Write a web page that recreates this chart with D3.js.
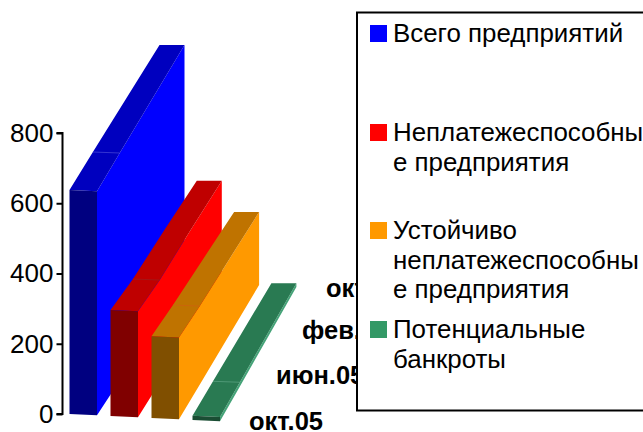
<!DOCTYPE html>
<html><head><meta charset="utf-8">
<script src="https://cdn.jsdelivr.net/npm/d3@7"></script>
<style>html,body{margin:0;padding:0;background:#fff;overflow:hidden}svg{display:block}text{font-family:"Liberation Sans",Arial,sans-serif;fill:#000}</style>
</head><body><svg id="c" width="643" height="432"></svg>
<script>
const dates = ["окт.05", "июн.05", "фев.06", "окт.06"];
const totalValues = [638, 662, 697, 734];
const insolventValues = [302, 298, 310, 318];
const stableValues = [233, 228, 228, 227];
const bankruptValues = [12, 12, 12, 12];
const seriesValues = [totalValues, insolventValues, stableValues, bankruptValues];
const legendLines = [
  ["Всего предприятий"],
  ["Неплатежеспособны", "е предприятия"],
  ["Устойчиво", "неплатежеспособны", "е предприятия"],
  ["Потенциальные", "банкроты"]
];
const yTicks = [0, 200, 400, 600, 800];
const palette = [
  {front:"#000080", top:"#0000BF", side:"#0000FF", key:"#0000FF", seam:"#4a4ad8"},
  {front:"#800000", top:"#BF0000", side:"#FF0000", key:"#FF0000", seam:"#9a2020"},
  {front:"#804F00", top:"#BF7300", side:"#FF9900", key:"#FF9900", seam:"#d06010"},
  {front:"#1A4D33", top:"#297A52", side:"#45A378", key:"#339966", seam:"#5fa585"}
];

const svg = d3.select("#c");
const y = d3.scaleLinear().domain([0, 800]).range([414, 133]);
const depth = d3.scaleLinear().domain([0, 1, 2, 3]).range([0, 0.26, 0.63, 1]);
const slot = d3.scaleLinear().domain([0, 3]).range([69.5, 192.5]);

function pt(s, t, v, right) {
  const f = depth(t);
  const w = 27.5 - 2.5 * f;
  const x = slot(s) + (90 - 3.7 * s) * f + (right ? w : 0);
  const base = y(0) + 2 * s - 133 * f + (right ? 1.3 * (1 - f) : 0);
  const h = (y(0) - y(v)) * (1 - 0.085 * f);
  return [x, base - h];
}
const floor = (s, t, right) => pt(s, t, 0, right);
const line = d3.line();
const poly = p => line(p) + "Z";

seriesValues.forEach((vals, s) => {
  const g = svg.append("g");
  const col = palette[s];
  const face = (p, c) => g.append("path").attr("d", poly(p)).attr("fill", c);
  const fwd = vals.map((v, t) => t);
  const rev = fwd.slice().reverse();
  // one polygon per face, running along every date of the series
  face([...fwd.map(t => pt(s, t, vals[t], true)), ...rev.map(t => floor(s, t, true))], col.side);
  face([...fwd.map(t => pt(s, t, vals[t], false)), ...rev.map(t => pt(s, t, vals[t], true))], col.top);
  g.append("path").attr("d", line([pt(s, 1, vals[1], false), pt(s, 1, vals[1], true)]))
    .attr("stroke", col.seam).attr("stroke-width", 0.7).attr("fill", "none");
  face([pt(s, 0, vals[0], false), pt(s, 0, vals[0], true), floor(s, 0, true), floor(s, 0, false)], col.front);
});

// value axis
const axis = svg.append("g").attr("transform", "translate(62.5,0)")
  .call(d3.axisLeft(y).tickValues(yTicks).tickSize(6).tickPadding(3).tickFormat(d3.format("d")));
axis.selectAll("path,line").attr("stroke", "#000").attr("stroke-width", 2);
axis.select(".domain").attr("d", `M-6,${y(800)}H0V${y(0)}H-6`);
axis.selectAll("text").attr("font-family", '"Liberation Sans",Arial,sans-serif').attr("font-size", 26).attr("fill", "#000");

// depth-axis labels
const labelX = d3.scaleLinear().domain([0, 1, 2, 3]).range([249, 276, 302, 326]);
const labelY = d3.scaleLinear().domain([0, 1, 2, 3]).range([430, 383.5, 338.5, 297]);
svg.append("g").selectAll("text").data(dates).join("text")
  .attr("x", (d, i) => labelX(i)).attr("y", (d, i) => labelY(i))
  .attr("font-weight", "bold").attr("font-size", 25.5)
  .text(d => d);

// legend
svg.append("rect").attr("x", 357).attr("y", 12.5).attr("width", 320).attr("height", 398)
  .attr("fill", "#fff").attr("stroke", "#000").attr("stroke-width", 2);
const keyY = [25, 124, 222, 321];
legendLines.forEach((lines, i) => {
  svg.append("rect").attr("x", 370).attr("y", keyY[i]).attr("width", 17).attr("height", 17).attr("fill", palette[i].key);
  lines.forEach((l, j) => {
    svg.append("text").attr("x", 393).attr("y", keyY[i] + 17 + j * 29.5).attr("font-size", 25.9).text(l);
  });
});
</script></body></html>
